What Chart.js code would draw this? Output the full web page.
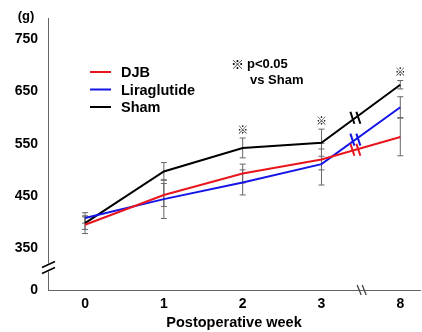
<!DOCTYPE html>
<html>
<head>
<meta charset="utf-8">
<script src="https://cdn.jsdelivr.net/npm/chart.js@4.4.0/dist/chart.umd.min.js"></script>
<style>
html, body { margin: 0; padding: 0; background: #fff; }
#wrap { width: 422px; height: 332px; }
</style>
</head>
<body>
<div id="wrap"><canvas id="weightChart"></canvas></div>
<script>
var weekLabels = ['0', '1', '2', '3', '8'];
var djb = [395, 452, 493, 520, 563];
var djbErr = [17, 22, 18, 20, 36];
var lira = [408, 444, 476, 511, 620];
var liraErr = [10, 37, 24, 40, 20];
var sham = [398, 497, 542, 552, 663];
var shamErr = [12, 17, 19, 26, 8];
var sigWeeks = [2, 3, 4];   // ※ p<0.05 vs Sham
var yTicks = [350, 450, 550, 650, 750];
var yBottom = 270;          // broken axis, labelled 0

var FONT = "'Liberation Sans', Arial, sans-serif";
var RED = '#e8161c', BLUE = '#1414e6', BLACK = '#000000';

function pts(arr) {
    return arr.map(function (v, i) { return { x: i, y: v }; });
}

var ctx = document.getElementById('weightChart').getContext('2d');

var extras = {
    id: 'extras',
    beforeDatasetsDraw: function (chart) {
        var c = chart.ctx, xs = chart.scales.x, ys = chart.scales.y;
        c.save();
        c.strokeStyle = '#666';
        c.lineWidth = 1;
        chart.data.datasets.forEach(function (ds) {
            ds.data.forEach(function (p, i) {
                var x = xs.getPixelForValue(p.x);
                var t = ys.getPixelForValue(p.y + ds.err[i]);
                var b = ys.getPixelForValue(p.y - ds.err[i]);
                c.beginPath();
                c.moveTo(x, t); c.lineTo(x, b);
                c.moveTo(x - 3, t); c.lineTo(x + 3, t);
                c.moveTo(x - 3, b); c.lineTo(x + 3, b);
                c.stroke();
            });
        });
        c.restore();
    },
    afterDatasetsDraw: function (chart) {
        var c = chart.ctx, xs = chart.scales.x, ys = chart.scales.y, area = chart.chartArea;
        c.save();
        // break marks on lines between week 3 and 8
        var bx = 3.43;
        chart.data.datasets.forEach(function (ds) {
            var y0 = ds.data[3].y, y1 = ds.data[4].y;
            var yv = y0 + (y1 - y0) * (bx - 3);
            var px = xs.getPixelForValue(bx), py = ys.getPixelForValue(yv);
            c.strokeStyle = ds.borderColor;
            c.lineWidth = 2;
            [-3, 3].forEach(function (d) {
                c.beginPath();
                c.moveTo(px + d - 2, py - 6);
                c.lineTo(px + d + 2, py + 6);
                c.stroke();
            });
        });
        // x axis break
        var ax = xs.getPixelForValue(3.51);
        c.strokeStyle = '#444';
        c.lineWidth = 1.3;
        [-2.5, 2.5].forEach(function (d) {
            c.beginPath();
            c.moveTo(ax + d - 2, area.bottom - 5);
            c.lineTo(ax + d + 2, area.bottom + 5);
            c.stroke();
        });
        // y axis break
        var ay = ys.getPixelForValue(313);
        c.fillStyle = '#fff';
        c.fillRect(area.left - 1, ay - 4, 3, 8);
        c.strokeStyle = '#000';
        c.lineWidth = 1.5;
        [-3, 3].forEach(function (d) {
            c.beginPath();
            c.moveTo(area.left - 6, ay + d + 3);
            c.lineTo(area.left + 7, ay + d - 3);
            c.stroke();
        });
        // significance marks above Sham
        var shamSet = chart.data.datasets[2];
        c.fillStyle = '#000';
        c.font = "11px 'Noto Sans CJK JP', 'DejaVu Sans', sans-serif";
        c.textAlign = 'center';
        c.textBaseline = 'bottom';
        sigWeeks.forEach(function (i) {
            var p = shamSet.data[i];
            var x = xs.getPixelForValue(p.x);
            var y = ys.getPixelForValue(p.y + shamSet.err[i]);
            c.fillText('\u203B', x, y - 3);
        });
        // unit label
        c.font = 'bold 13px ' + FONT;
        c.textBaseline = 'middle';
        c.fillText('(g)', 26, 16);
        // note
        c.textAlign = 'left';
        c.font = "bold 13px 'Noto Sans CJK JP', sans-serif";
        c.fillText('\u203B', 231, 64);
        c.font = 'bold 13px ' + FONT;
        c.fillText('p<0.05', 247, 64);
        c.fillText('vs Sham', 250, 80);
        // legend
        c.font = 'bold 14.5px ' + FONT;
        chart.data.datasets.forEach(function (ds, i) {
            var ly = 72 + i * 17.5;
            c.strokeStyle = ds.borderColor;
            c.lineWidth = 2;
            c.beginPath();
            c.moveTo(90, ly); c.lineTo(111, ly);
            c.stroke();
            c.fillStyle = '#000';
            c.fillText(ds.label, 121, ly + 1);
        });
        c.restore();
    }
};

var weightChart = new Chart(ctx, {
    type: 'line',
    data: {
        datasets: [
            { label: 'DJB', data: pts(djb), err: djbErr, borderColor: RED, backgroundColor: RED },
            { label: 'Liraglutide', data: pts(lira), err: liraErr, borderColor: BLUE, backgroundColor: BLUE },
            { label: 'Sham', data: pts(sham), err: shamErr, borderColor: BLACK, backgroundColor: BLACK }
        ]
    },
    options: {
        responsive: true,
        maintainAspectRatio: false,
        animation: false,
        layout: { padding: { top: 14, right: 2, left: 0, bottom: 0 } },
        elements: {
            line: { borderWidth: 2, tension: 0, fill: false },
            point: { radius: 0, hoverRadius: 0 }
        },
        plugins: {
            legend: { display: false },
            tooltip: { enabled: false }
        },
        scales: {
            x: {
                type: 'linear',
                min: -0.47,
                max: 4.25,
                afterBuildTicks: function (axis) {
                    axis.ticks = weekLabels.map(function (l, i) { return { value: i }; });
                },
                afterFit: function (axis) { axis.height = 42; },
                grid: { display: false, drawTicks: false },
                border: { display: true, color: '#666', width: 1 },
                ticks: {
                    callback: function (v) { return weekLabels[v]; },
                    font: { family: FONT, size: 14, weight: 'bold' },
                    color: '#000',
                    padding: 6,
                    autoSkip: false,
                    maxRotation: 0
                },
                title: {
                    display: true,
                    text: 'Postoperative week',
                    font: { family: FONT, size: 14.5, weight: 'bold' },
                    color: '#000',
                    padding: { top: 0, bottom: 0 }
                }
            },
            y: {
                type: 'linear',
                min: yBottom,
                max: 790,
                afterBuildTicks: function (axis) {
                    axis.ticks = [yBottom].concat(yTicks).map(function (v) { return { value: v }; });
                },
                afterFit: function (axis) { axis.width = 48; },
                grid: { display: false, drawTicks: false },
                border: { display: true, color: '#666', width: 1 },
                ticks: {
                    callback: function (v) { return v === yBottom ? '0' : v; },
                    font: { family: FONT, size: 14, weight: 'bold' },
                    color: '#000',
                    padding: 10
                }
            }
        }
    },
    plugins: [extras]
});
</script>
</body>
</html>
